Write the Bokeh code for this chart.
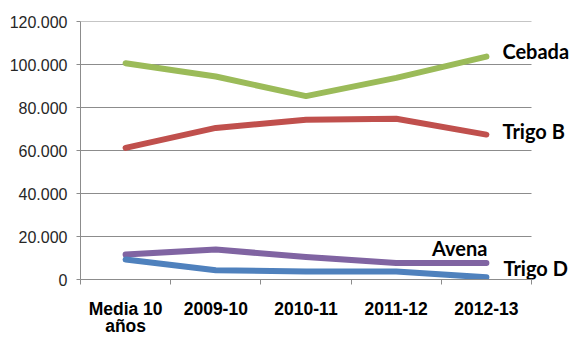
from bokeh.plotting import figure
from bokeh.models import Range1d, FixedTicker, ColumnDataSource, LinearAxis
from bokeh.core.properties import value
from bokeh.embed import file_html
from bokeh.resources import INLINE

categories = ["Media 10 años", "2009-10", "2010-11", "2011-12", "2012-13"]
cebada = [100600, 94400, 85300, 93800, 103700]
trigo_b = [61200, 70500, 74300, 74800, 67400]
avena = [11600, 13900, 10500, 7700, 7700]
trigo_d = [9300, 4300, 3700, 3700, 1000]
y_ticks = [0, 20000, 40000, 60000, 80000, 100000, 120000]
y_tick_labels = ["0", "20.000", "40.000", "60.000", "80.000", "100.000", "120.000"]

series = [
    ("Cebada", cebada, "#9BBB59"),
    ("Trigo B", trigo_b, "#C0504D"),
    ("Avena", avena, "#8064A2"),
    ("Trigo D", trigo_d, "#4F81BD"),
]

n = len(categories)
xs = [i + 0.5 for i in range(n)]

# category labels wrapped on two lines: first line on the main axis, second on a label-only axis
first_line = [c if len(c) <= 8 else c.rsplit(" ", 1)[0] for c in categories]
second_line = ["" if len(c) <= 8 else c.rsplit(" ", 1)[1] for c in categories]

# frame extends to the right edge so the series labels fit; axis/grid limited to categories
p = figure(width=571, height=338, output_backend="svg", toolbar_location=None,
           x_range=Range1d(0, n * 491 / 451), y_range=Range1d(0, 120000),
           min_border_left=80, min_border_right=0, min_border_top=21, min_border_bottom=58)
p.outline_line_color = None
p.background_fill_color = "white"

# y axis
p.yaxis.ticker = FixedTicker(ticks=y_ticks)
p.yaxis.major_label_overrides = {t: l for t, l in zip(y_ticks, y_tick_labels)}
p.yaxis.minor_tick_line_color = None
p.yaxis.major_tick_out = 4
p.yaxis.major_tick_in = 0
p.yaxis.major_tick_line_color = "#8c8c8c"
p.yaxis.axis_line_color = "#8c8c8c"
p.yaxis.major_label_text_font = "Liberation Sans"
p.yaxis.major_label_text_font_size = "16px"
p.yaxis.major_label_text_color = "#262626"
p.yaxis.major_label_standoff = 9

# x axis
xa = p.xaxis[0]
xa.bounds = (0, n)
xa.ticker = FixedTicker(ticks=xs, minor_ticks=list(range(n + 1)))
xa.major_label_overrides = {x: c for x, c in zip(xs, first_line)}
xa.major_tick_line_color = None
xa.major_tick_out = 0
xa.major_tick_in = 0
xa.minor_tick_out = 5
xa.minor_tick_in = 0
xa.minor_tick_line_color = "#8c8c8c"
xa.axis_line_color = "#8c8c8c"
xa.major_label_text_font = "Liberation Sans"
xa.major_label_text_font_style = "bold"
xa.major_label_text_font_size = "17.5px"
xa.major_label_text_color = "#000000"
xa.major_label_standoff = 14

xa2 = LinearAxis(ticker=FixedTicker(ticks=xs),
                 major_label_overrides={x: c for x, c in zip(xs, second_line)},
                 axis_line_color=None, major_tick_line_color=None, minor_tick_line_color=None,
                 major_tick_out=0, major_tick_in=0, minor_tick_out=0, minor_tick_in=0,
                 major_label_standoff=-6, major_label_text_font="Liberation Sans",
                 major_label_text_font_style="bold", major_label_text_font_size="17.5px",
                 major_label_text_color="#000000")
p.add_layout(xa2, "below")

p.xgrid.grid_line_color = None
p.ygrid.grid_line_color = None
grid_y = [t for t in y_ticks if t > 0]
p.segment(x0=[0] * len(grid_y), y0=grid_y, x1=[n] * len(grid_y), y1=grid_y,
          line_color="#8c8c8c", line_width=1, level="underlay")

for name, vals, color in series:
    p.line(xs, vals, line_color=color, line_width=6, line_cap="round", line_join="round")

# series labels (offsets in screen pixels from the last point)
label_names = [s[0] for s in series]
label_y = [s[1][-1] for s in series]
x_off = [16, 16, 1, 17]
y_off = [-6, -4, -15, -9]
aligns = ["left", "left", "right", "left"]
src = ColumnDataSource(dict(x=[xs[-1]] * len(series), y=label_y, text=label_names,
                            xo=x_off, yo=y_off, align=aligns))
p.text(x="x", y="y", text="text", x_offset="xo", y_offset="yo", text_align="align",
       source=src, text_font=value("Lato"), text_font_style="bold",
       text_font_size="20px", text_color="#000000", text_baseline="middle")

open("out.html", "w").write(file_html(p, INLINE))
